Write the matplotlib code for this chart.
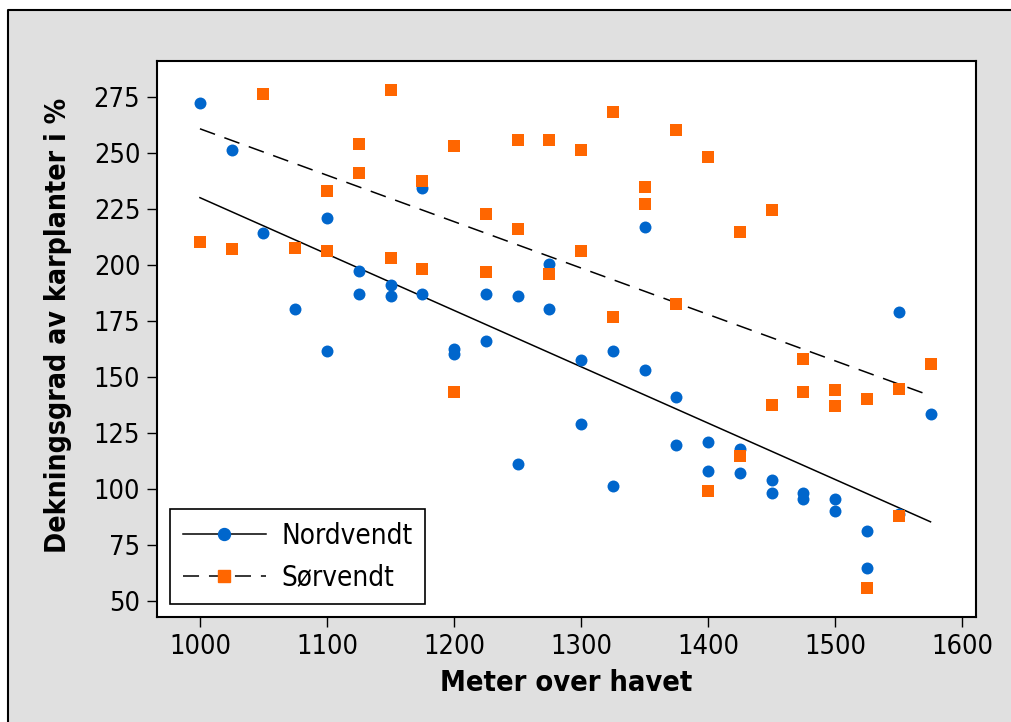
import matplotlib.pyplot as plt
from matplotlib.lines import Line2D
from matplotlib.patches import Rectangle
import numpy as np

# Nordvendt (north facing) - height above sea level and coverage %
nord_x = [1000, 1025, 1050, 1075,
          1100, 1100, 1125, 1125, 1150, 1150, 1175, 1175, 1200, 1200,
          1225, 1225, 1250, 1250, 1275, 1275, 1300, 1300, 1325, 1325,
          1350, 1350, 1375, 1375, 1400, 1400, 1425, 1425, 1450, 1450,
          1475, 1475, 1500, 1500, 1525, 1525, 1550, 1550, 1575]
nord_y = [272, 251, 214, 180,
          221, 161.5, 197, 187, 191, 186, 234, 187, 162.5, 160,
          187, 166, 186, 111, 200.5, 180, 157.5, 129, 161.5, 101,
          217, 153, 141, 119.5, 121, 108, 117.5, 107, 104, 98,
          98, 95.5, 95.5, 90, 81, 64.5, 179, 88.5, 133.5]

# Sørvendt (south facing)
sor_x = [1000, 1025, 1050, 1075,
         1100, 1100, 1125, 1125, 1150, 1150, 1175, 1175, 1200, 1200,
         1225, 1225, 1250, 1250, 1275, 1275, 1300, 1300, 1325, 1325,
         1350, 1350, 1375, 1375, 1400, 1400, 1425, 1425, 1450, 1450,
         1475, 1475, 1500, 1500, 1525, 1525, 1550, 1550, 1575]
sor_y = [210, 207, 276, 207.5,
         233, 206, 254, 241, 278, 203, 237.5, 198, 253, 143,
         222.5, 196.5, 255.5, 216, 255.5, 196, 251, 206, 268, 176.5,
         234.5, 227, 260, 182.5, 248, 99, 214.5, 114.5, 224.5, 137.5,
         158, 143, 144, 137, 140, 55.5, 144.5, 88, 155.5]

labels = ['Nordvendt', 'Sørvendt']
xticks = [1000, 1100, 1200, 1300, 1400, 1500, 1600]
yticks = [50, 75, 100, 125, 150, 175, 200, 225, 250, 275]

blue = '#0066cc'
orange = '#ff6600'

plt.rcParams['font.family'] = 'DejaVu Sans'
plt.rcParams['font.stretch'] = 'condensed'

fig = plt.figure(figsize=(10.12, 7.22), dpi=100, facecolor='white')

# grey panel with a border on the top and left only
x0 = 8 / 1012
y0 = 1 - 10 / 722
fig.add_artist(Rectangle((x0, 0), 1 - x0, y0, transform=fig.transFigure,
                         facecolor='#e0e0e0', edgecolor='none', zorder=-10))
fig.add_artist(Line2D([x0, x0, 1], [0, y0, y0], transform=fig.transFigure,
                      color='black', lw=1.5, zorder=-9))

ax = fig.add_axes([157 / 1012, 105 / 722, 819 / 1012, 556 / 722])
ax.set_facecolor('white')

# fitted lines
nx = np.array(nord_x, dtype=float)
sx = np.array(sor_x, dtype=float)
pn = np.polyfit(nx, nord_y, 1)
ps = np.polyfit(sx, sor_y, 1)
xl = np.array([min(nord_x), max(nord_x)])
ax.plot(xl, np.polyval(pn, xl), color='black', lw=1.1, zorder=2)
xs = np.array([min(sor_x), max(sor_x)])
ax.plot(xs, np.polyval(ps, xs), color='black', lw=1.1, ls=(0, (10.5, 6.5)), zorder=2)

ax.plot(nord_x, nord_y, 'o', color=blue, markersize=8.6, mew=0, ls='none', zorder=3)
ax.plot(sor_x, sor_y, 's', color=orange, markersize=8.8, mew=0, ls='none', zorder=4)

ax.set_xlim(966.2, 1610.8)
ax.set_ylim(42.7, 290.9)
ax.set_xticks(xticks)
ax.set_yticks(yticks)
ax.tick_params(direction='out', length=7, width=1, labelsize=19.5)
ax.tick_params(axis='x', pad=5)
ax.tick_params(axis='y', pad=5)
for s in ax.spines.values():
    s.set_linewidth(1.5)

ax.set_xlabel('Meter over havet', fontsize=20.8, fontweight='bold', labelpad=7)
ax.set_ylabel('Dekningsgrad av karplanter i %', fontsize=20.3, fontweight='bold')
ax.yaxis.set_label_coords(-0.104, 0.525)

handles = [Line2D([], [], color='black', lw=1.1, marker='o', mfc=blue, mec=blue, markersize=8.6),
           Line2D([], [], color='black', lw=1.1, ls=(0, (10.5, 6.5)), marker='s', mfc=orange, mec=orange, markersize=8.8)]
leg = ax.legend(handles, labels, loc='lower left', bbox_to_anchor=(0.0159, 0.0234),
                borderaxespad=0, fontsize=20, fancybox=False, framealpha=1,
                edgecolor='black', handlelength=3.0, handletextpad=0.55,
                borderpad=0.45, labelspacing=0.5, numpoints=1)
leg.get_frame().set_linewidth(1.2)

plt.savefig('out.png', dpi=100, facecolor='white')
